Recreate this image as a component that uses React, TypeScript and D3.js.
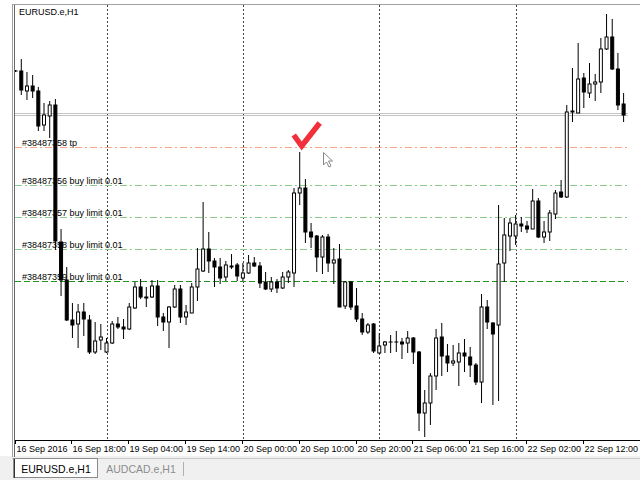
// App.tsx
import React from 'react';
import * as d3 from 'd3';

// EURUSD.e H1, one value per bar (16 Sep 08:00 .. 22 Sep 19:00)
const opens = [
    1.12529, 1.12529, 1.12509, 1.12514, 1.12509, 1.12475, 1.12484, 1.12495, 1.12358, 1.12320,
    1.12280, 1.12276, 1.12288, 1.12280, 1.12248, 1.12260, 1.12248, 1.12257, 1.12276, 1.12273,
    1.12271, 1.12292, 1.12313, 1.12303, 1.12303, 1.12314, 1.12283, 1.12278, 1.12293, 1.12311,
    1.12283, 1.12287, 1.12313, 1.12329, 1.12351, 1.12339, 1.12333, 1.12323, 1.12334, 1.12335,
    1.12322, 1.12327, 1.12337, 1.12334, 1.12318, 1.12311, 1.12318, 1.12312, 1.12323, 1.12327,
    1.12407, 1.12412, 1.12368, 1.12364, 1.12343, 1.12363, 1.12337, 1.12341, 1.12294, 1.12318,
    1.12294, 1.12281, 1.12268, 1.12276, 1.12247, 1.12255, 1.12258, 1.12258, 1.12258, 1.12257,
    1.12262, 1.12248, 1.12187, 1.12197, 1.12224, 1.12263, 1.12244, 1.12237, 1.12238, 1.12247,
    1.12243, 1.12235, 1.12218, 1.12293, 1.12277, 1.12275, 1.12337, 1.12364, 1.12364, 1.12376,
    1.12374, 1.12371, 1.12399, 1.12363, 1.12368, 1.12386, 1.12408, 1.12403, 1.12488, 1.12487,
    1.12522, 1.12507, 1.12516, 1.12518, 1.12551, 1.12563, 1.12531, 1.12496
];
const highs = [
    1.12530, 1.12541, 1.12528, 1.12525, 1.12513, 1.12497, 1.12499, 1.12501, 1.12371, 1.12333,
    1.12297, 1.12296, 1.12297, 1.12285, 1.12278, 1.12276, 1.12262, 1.12279, 1.12283, 1.12281,
    1.12297, 1.12318, 1.12321, 1.12313, 1.12320, 1.12320, 1.12287, 1.12294, 1.12315, 1.12315,
    1.12295, 1.12317, 1.12352, 1.12398, 1.12368, 1.12342, 1.12342, 1.12339, 1.12346, 1.12337,
    1.12337, 1.12345, 1.12343, 1.12338, 1.12328, 1.12323, 1.12321, 1.12328, 1.12330, 1.12412,
    1.12448, 1.12421, 1.12377, 1.12365, 1.12365, 1.12366, 1.12352, 1.12356, 1.12319, 1.12319,
    1.12312, 1.12287, 1.12277, 1.12277, 1.12267, 1.12259, 1.12265, 1.12269, 1.12262, 1.12269,
    1.12263, 1.12249, 1.12210, 1.12227, 1.12271, 1.12277, 1.12256, 1.12255, 1.12257, 1.12261,
    1.12253, 1.12237, 1.12306, 1.12300, 1.12278, 1.12395, 1.12382, 1.12382, 1.12385, 1.12383,
    1.12379, 1.12411, 1.12402, 1.12379, 1.12390, 1.12410, 1.12420, 1.12495, 1.12532, 1.12557,
    1.12527, 1.12537, 1.12526, 1.12562, 1.12586, 1.12581, 1.12547, 1.12507
];
const lows = [
    1.12528, 1.12505, 1.12500, 1.12502, 1.12469, 1.12469, 1.12462, 1.12350, 1.12304, 1.12279,
    1.12262, 1.12252, 1.12264, 1.12246, 1.12246, 1.12250, 1.12247, 1.12256, 1.12271, 1.12261,
    1.12270, 1.12291, 1.12301, 1.12293, 1.12302, 1.12274, 1.12269, 1.12252, 1.12292, 1.12277,
    1.12275, 1.12287, 1.12299, 1.12328, 1.12327, 1.12313, 1.12316, 1.12319, 1.12331, 1.12319,
    1.12319, 1.12326, 1.12333, 1.12312, 1.12310, 1.12308, 1.12307, 1.12311, 1.12317, 1.12313,
    1.12395, 1.12357, 1.12352, 1.12328, 1.12326, 1.12328, 1.12316, 1.12293, 1.12291, 1.12290,
    1.12278, 1.12265, 1.12266, 1.12247, 1.12246, 1.12247, 1.12247, 1.12248, 1.12241, 1.12247,
    1.12236, 1.12169, 1.12163, 1.12175, 1.12210, 1.12224, 1.12228, 1.12234, 1.12214, 1.12228,
    1.12223, 1.12215, 1.12197, 1.12271, 1.12195, 1.12199, 1.12318, 1.12349, 1.12355, 1.12368,
    1.12367, 1.12371, 1.12362, 1.12357, 1.12359, 1.12381, 1.12402, 1.12402, 1.12478, 1.12487,
    1.12492, 1.12502, 1.12499, 1.12507, 1.12550, 1.12530, 1.12490, 1.12478
];
const closes = [
    1.12529, 1.12510, 1.12514, 1.12509, 1.12474, 1.12485, 1.12495, 1.12359, 1.12320, 1.12280,
    1.12275, 1.12288, 1.12281, 1.12248, 1.12259, 1.12263, 1.12257, 1.12276, 1.12273, 1.12271,
    1.12293, 1.12313, 1.12303, 1.12302, 1.12314, 1.12283, 1.12278, 1.12293, 1.12311, 1.12283,
    1.12288, 1.12313, 1.12331, 1.12351, 1.12339, 1.12333, 1.12322, 1.12335, 1.12333, 1.12324,
    1.12327, 1.12337, 1.12334, 1.12317, 1.12311, 1.12318, 1.12312, 1.12323, 1.12328, 1.12407,
    1.12412, 1.12368, 1.12363, 1.12343, 1.12363, 1.12337, 1.12340, 1.12293, 1.12318, 1.12293,
    1.12281, 1.12268, 1.12275, 1.12249, 1.12254, 1.12258, 1.12258, 1.12258, 1.12256, 1.12262,
    1.12248, 1.12187, 1.12197, 1.12224, 1.12262, 1.12244, 1.12237, 1.12239, 1.12247, 1.12244,
    1.12235, 1.12218, 1.12293, 1.12278, 1.12266, 1.12336, 1.12365, 1.12377, 1.12376, 1.12374,
    1.12371, 1.12399, 1.12363, 1.12368, 1.12387, 1.12407, 1.12403, 1.12488, 1.12489, 1.12521,
    1.12508, 1.12516, 1.12518, 1.12551, 1.12563, 1.12531, 1.12495, 1.12485
];

// time axis
const tickBars = [0, 10, 20, 30, 40, 50, 60, 70, 80, 90, 100];
const tickLabels = [
    '16 Sep 2016', '16 Sep 18:00', '19 Sep 04:00', '19 Sep 14:00', '20 Sep 00:00', '20 Sep 10:00',
    '20 Sep 20:00', '21 Sep 06:00', '21 Sep 16:00', '22 Sep 02:00', '22 Sep 12:00'
];
const dayStartBars = [16, 40, 64, 88];

// orders
const orderNames = ['#38487358 tp', '#38487356 buy limit 0.01', '#38487357 buy limit 0.01', '#38487358 buy limit 0.01', '#38487359 buy limit 0.01'];
const orderPrices = [1.12453, 1.12415, 1.12383, 1.12351, 1.12319];
const orderColors = ['#f7a488', '#8cc98c', '#8cc98c', '#8cc98c', '#1f951f'];
const orderDashes = ['7,3,2,3', '7,3,2,3', '7,3,2,3', '7,3,2,3', '6,3'];

const bidPrice = 1.12485;
const askPrice = 1.12487;
const checkBar = 50;

const FONT = '"Liberation Sans", Arial, sans-serif';
const plot = { left: 15, right: 628, top: 5, bottom: 440 };

const App: React.FC = () => {
    const x = d3.scaleLinear().domain([0, opens.length - 1]).range([15.6, 623.6]);
    const y = d3.scaleLinear().domain([1.12160, 1.12600]).range([440, 0]);
    const hy = (p: number) => Math.round(y(p)) + 0.5;
    const bars = d3.range(opens.length);

    const cx = x(checkBar);
    const cy = y(highs[checkBar]);

    return (
        <div style={{ position: 'absolute', left: 0, top: 0 }}>
            <svg width={640} height={480} style={{ display: 'block' }}>
                <defs>
                    <clipPath id="plot-clip">
                        <rect x={plot.left} y={plot.top} width={plot.right - plot.left} height={plot.bottom - plot.top} />
                    </clipPath>
                </defs>
                <rect width={640} height={480} fill="#fff" />
                <rect x={0} y={456} width={640} height={24} fill="#f0f0f0" />

                {/* day separators */}
                {dayStartBars.map(b => (
                    <line key={'g' + b} x1={Math.round(x(b)) + 0.5} x2={Math.round(x(b)) + 0.5}
                        y1={plot.top} y2={plot.bottom} stroke="#444" strokeDasharray="2,2" />
                ))}

                {/* ask / bid */}
                {[askPrice, bidPrice].map((p, i) => (
                    <line key={'p' + i} x1={plot.left} x2={plot.right} y1={hy(p)} y2={hy(p)} stroke="#c4c4c4" />
                ))}

                {/* orders */}
                {orderPrices.map((p, i) => (
                    <line key={'o' + i} x1={plot.left} x2={plot.right} y1={hy(p)} y2={hy(p)}
                        stroke={orderColors[i]} strokeDasharray={orderDashes[i]} />
                ))}
                {orderPrices.map((p, i) => (
                    <text key={'t' + i} x={22} y={y(p) - 1.5} fontFamily={FONT} fontSize={9} fill="#000">
                        {orderNames[i]}
                    </text>
                ))}

                {/* candles */}
                <g clipPath="url(#plot-clip)">
                    {bars.map(i => (
                        <line key={'w' + i} x1={x(i)} x2={x(i)} y1={y(highs[i])} y2={y(lows[i])} stroke="#000" />
                    ))}
                    {bars.map(i => (
                        <rect key={'b' + i} x={x(i) - 1.5} y={y(Math.max(opens[i], closes[i]))} width={3}
                            height={Math.max(0.01, Math.abs(y(opens[i]) - y(closes[i])))}
                            fill={closes[i] < opens[i] ? '#000' : '#fff'} stroke="#000" />
                    ))}
                </g>

                <text x={19} y={15} fontFamily={FONT} fontSize={9} fill="#000">EURUSD.e,H1</text>

                {/* check mark above the high */}
                <path d={`M${cx - 6},${cy - 17} L${cx + 2},${cy - 6} L${cx + 20},${cy - 29}`}
                    fill="none" stroke="#f0303a" strokeWidth={5.5} strokeLinejoin="miter" />

                {/* mouse cursor */}
                <path d="M323.5,152.5 L323.5,165 L326.5,162 L329,167 L331,166 L328.5,161 L332.5,161 Z"
                    fill="#fff" stroke="#888" />

                {/* frame */}
                <line x1={12.5} x2={12.5} y1={4} y2={457} stroke="#a0a0a0" />
                <line x1={14.5} x2={14.5} y1={4} y2={457} stroke="#696969" />
                <line x1={12} x2={640} y1={4.5} y2={4.5} stroke="#a0a0a0" />

                {/* time axis */}
                <line x1={plot.left} x2={640} y1={plot.bottom + 0.5} y2={plot.bottom + 0.5} stroke="#000" />
                {tickBars.map((b, i) => (
                    <g key={'k' + b}>
                        <line x1={Math.round(x(b)) - 0.5} x2={Math.round(x(b)) - 0.5} y1={plot.bottom} y2={plot.bottom + 4} stroke="#000" />
                        <text x={Math.round(x(b)) + 0.5} y={452} fontFamily={FONT} fontSize={9} fill="#000">{tickLabels[i]}</text>
                    </g>
                ))}

                {/* tabs */}
                <line x1={12} x2={640} y1={458.5} y2={458.5} stroke="#c8c8c8" />
                <rect x={13.5} y={458.5} width={84} height={19} fill="#fff" stroke="#8a8a8a" />
                <line x1={14.5} x2={14.5} y1={459} y2={478} stroke="#333" />
                <text x={56} y={472.5} textAnchor="middle" fontFamily={FONT} fontSize={10.5} fill="#000">EURUSD.e,H1</text>
                <text x={141} y={472.5} textAnchor="middle" fontFamily={FONT} fontSize={10.5} fill="#8c8c8c">AUDCAD.e,H1</text>
                <line x1={183.5} x2={183.5} y1={462} y2={476} stroke="#b0b0b0" />
            </svg>
        </div>
    );
};

export default App;
